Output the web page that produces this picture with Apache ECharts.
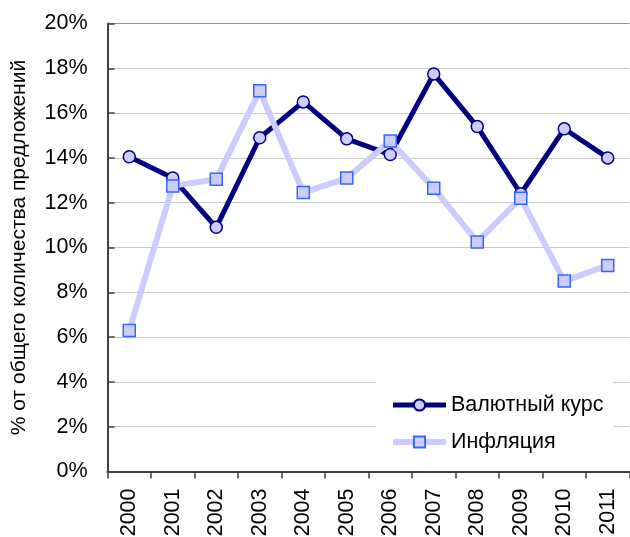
<!DOCTYPE html>
<html>
<head>
<meta charset="utf-8">
<script src="https://cdn.jsdelivr.net/npm/echarts@6/dist/echarts.min.js"></script>
<style>html,body{margin:0;padding:0;background:#fff}#c{width:630px;height:537px}</style>
</head>
<body>
<div id="c"></div>
<script>
const years = ['2000','2001','2002','2003','2004','2005','2006','2007','2008','2009','2010','2011'];
const currencyRate = [14.05, 13.1, 10.9, 14.9, 16.5, 14.85, 14.15, 17.75, 15.4, 12.4, 15.3, 14.0];
const inflation = [6.3, 12.75, 13.05, 17.0, 12.45, 13.1, 14.75, 12.65, 10.25, 12.2, 8.5, 9.2];
const seriesNames = ['Валютный курс', 'Инфляция'];
const yTitle = '% от общего количества предложений';

const font = "'Liberation Sans', Arial, sans-serif";
const chart = echarts.init(document.getElementById('c'), null, {renderer: 'canvas'});
const gridColors = ['#c8c8c8','#c8c8c8','#c8c8c8','#c8c8c8','#c8c8c8','#c8c8c8','#c8c8c8','#c8c8c8','#c8c8c8','#c8c8c8','#909090'];
chart.setOption({
  animation: false,
  backgroundColor: '#fff',
  textStyle: {fontFamily: font},
  grid: {left: 107.5, right: 0.5, top: 23.5, bottom: 65.5, containLabel: false, outerBoundsMode: 'none'},
  legend: {
    orient: 'vertical',
    left: 376, top: 382,
    padding: [12, 10, 16, 14],
    backgroundColor: '#fff',
    itemWidth: 53, itemHeight: 14,
    itemGap: 15,
    textStyle: {fontFamily: font, fontSize: 21.5, color: '#000'},
    data: [
      {name: seriesNames[0], lineStyle: {width: 5, color: '#000080'}},
      {name: seriesNames[1], lineStyle: {width: 6, color: '#ccccff'}}
    ]
  },
  xAxis: {
    type: 'category',
    data: years,
    boundaryGap: true,
    axisLine: {lineStyle: {color: '#404040', width: 2}},
    axisTick: {show: true, length: 7, lineStyle: {color: '#404040', width: 1.5}},
    axisLabel: {rotate: 90, margin: 17, fontSize: 21.5, color: '#000', fontFamily: font},
    splitLine: {show: false}
  },
  yAxis: {
    type: 'value',
    min: 0, max: 20, interval: 2,
    name: yTitle,
    nameLocation: 'middle',
    nameGap: 78,
    nameTextStyle: {fontSize: 21, color: '#000', fontFamily: font},
    axisLine: {show: true, lineStyle: {color: '#404040', width: 2}},
    axisTick: {show: true, inside: true, length: 7, lineStyle: {color: '#404040', width: 1.5}},
    axisLabel: {formatter: '{value}%', margin: 20, fontSize: 21.5, color: '#000', fontFamily: font},
    splitLine: {show: true, lineStyle: {color: gridColors, width: 1.2}}
  },
  series: [
    {
      name: seriesNames[0],
      type: 'line',
      data: currencyRate,
      symbol: 'circle',
      symbolSize: 12,
      lineStyle: {color: '#000080', width: 5},
      itemStyle: {color: '#ccccff', borderColor: '#000080', borderWidth: 1.5},
      z: 2
    },
    {
      name: seriesNames[1],
      type: 'line',
      data: inflation,
      symbol: 'rect',
      symbolSize: 12,
      lineStyle: {color: '#ccccff', width: 6},
      itemStyle: {color: '#ccccff', borderColor: '#3366ff', borderWidth: 1.5},
      z: 3
    }
  ]
});
</script>
</body>
</html>
